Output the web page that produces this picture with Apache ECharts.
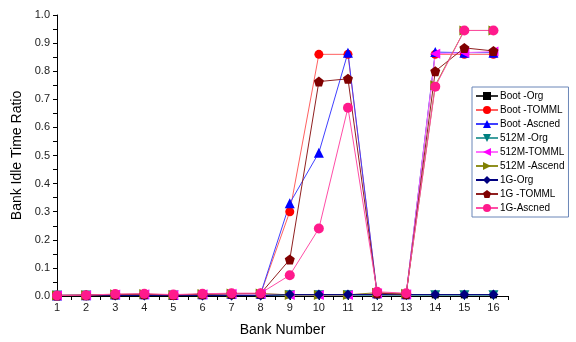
<!DOCTYPE html>
<html>
<head>
<meta charset="utf-8">
<script src="https://cdn.jsdelivr.net/npm/echarts@6/dist/echarts.min.js"></script>
<style>
  html, body { margin: 0; padding: 0; background: #fff; }
  #chart { width: 576px; height: 342px; }
</style>
</head>
<body>
<div id="chart"></div>
<script>
// bank numbers 1..16
const banks = [1, 2, 3, 4, 5, 6, 7, 8, 9, 10, 11, 12, 13, 14, 15, 16]

const bootOrg = [0.002, 0.002, 0.002, 0.002, 0.002, 0.002, 0.002, 0.002, 0.004, 0.004, 0.004, 0.004, 0.004, 0.004, 0.004, 0.004]
const bootTommml = [0.002, 0.003, 0.005, 0.006, 0.004, 0.006, 0.008, 0.008, 0.30, 0.86, 0.86, 0.01, 0.006, 0.86, 0.86, 0.86]
const bootAscned = [0.002, 0.003, 0.005, 0.006, 0.004, 0.006, 0.008, 0.008, 0.33, 0.51, 0.866, 0.01, 0.006, 0.868, 0.866, 0.866]
const m512Org = [0.002, 0.002, 0.002, 0.002, 0.002, 0.002, 0.002, 0.002, 0.003, 0.003, 0.003, 0.003, 0.003, 0.003, 0.003, 0.003]
const m512Tommml = [0.002, 0.003, 0.005, 0.006, 0.004, 0.006, 0.008, 0.008, 0.004, 0.004, 0.004, 0.01, 0.006, 0.862, 0.866, 0.87]
const m512Ascend = [0.002, 0.003, 0.006, 0.007, 0.004, 0.007, 0.009, 0.009, 0.004, 0.004, 0.004, 0.012, 0.008, 0.75, 0.945, 0.945]
const g1Org = [0.002, 0.002, 0.002, 0.002, 0.002, 0.002, 0.002, 0.002, 0.005, 0.005, 0.005, 0.005, 0.005, 0.005, 0.005, 0.005]
const g1Tommml = [0.002, 0.003, 0.005, 0.006, 0.004, 0.006, 0.008, 0.009, 0.13, 0.763, 0.773, 0.01, 0.006, 0.80, 0.883, 0.872]
const g1Ascned = [0.002, 0.003, 0.007, 0.008, 0.005, 0.008, 0.01, 0.01, 0.074, 0.24, 0.67, 0.015, 0.01, 0.745, 0.945, 0.945]

const yTicks = ['0.0', '0.1', '0.2', '0.3', '0.4', '0.5', '0.6', '0.7', '0.8', '0.9', '1.0']

const pentagon = 'path://M0,-1L0.951,-0.309L0.588,0.809L-0.588,0.809L-0.951,-0.309Z'

function mk(name, data, color, lineColor, symbol, size, rotate) {
  return {
    name: name,
    type: 'line',
    data: banks.map((b, i) => [b, data[i]]),
    symbol: symbol,
    symbolSize: size,
    symbolRotate: rotate || 0,
    showAllSymbol: true,
    itemStyle: { color: color },
    lineStyle: { color: lineColor, width: 1 },
    emphasis: { disabled: true },
    animation: false
  }
}

const chart = echarts.init(document.getElementById('chart'))
chart.setOption({
  textStyle: { fontFamily: 'Liberation Sans, Arial, sans-serif' },
  grid: { left: 57, right: 68, top: 15, bottom: 45 },
  legend: {
    orient: 'vertical',
    left: 472,
    top: 87,
    itemWidth: 22,
    itemHeight: 10,
    itemGap: 4,
    padding: [4, 4, 4, 3],
    borderColor: '#6a86b8',
    borderWidth: 1,
    textStyle: { fontSize: 10, color: '#000', padding: [0, 0, 0, -3] }
  },
  xAxis: {
    type: 'value',
    min: 1,
    max: 16.5,
    interval: 1,
    name: 'Bank Number',
    nameLocation: 'middle',
    nameGap: 27,
    nameTextStyle: { fontSize: 14, color: '#000' },
    splitLine: { show: false },
    axisLine: { lineStyle: { color: '#000' } },
    axisTick: { length: 4, inside: false, lineStyle: { color: '#000' } },
    minorTick: { show: true, splitNumber: 2, length: 4, lineStyle: { color: '#000' } },
    axisLabel: {
      fontSize: 11, color: '#222', margin: 6,
      formatter: v => (Number.isInteger(v) ? String(v) : '')
    }
  },
  yAxis: {
    type: 'value',
    min: 0,
    max: 1,
    interval: 0.1,
    name: 'Bank Idle Time Ratio',
    nameLocation: 'middle',
    nameGap: 33,
    nameTextStyle: { fontSize: 14, color: '#000' },
    splitLine: { show: false },
    axisLine: { show: true, lineStyle: { color: '#000' } },
    axisTick: { show: true, length: 4, lineStyle: { color: '#000' } },
    minorTick: { show: true, splitNumber: 2, length: 4, lineStyle: { color: '#000' } },
    axisLabel: {
      fontSize: 11, color: '#222', margin: 7,
      formatter: v => yTicks[Math.round(v * 10)]
    }
  },
  series: [
    mk('Boot -Org', bootOrg, '#000000', '#333333', 'rect', 7),
    mk('Boot -TOMML', bootTommml, '#ff0000', '#ff6060', 'circle', 9),
    mk('Boot -Ascned', bootAscned, '#0000ff', '#4040ff', 'triangle', 10),
    mk('512M -Org', m512Org, '#008080', '#40a0a0', 'triangle', 10, 180),
    mk('512M-TOMML', m512Tommml, '#ff00ff', '#ff70ff', 'triangle', 10, 90),
    mk('512M -Ascend', m512Ascend, '#808000', '#909020', 'triangle', 10, -90),
    mk('1G-Org', g1Org, '#000080', '#000080', 'diamond', 10),
    mk('1G -TOMML', g1Tommml, '#800000', '#902020', pentagon, 10),
    mk('1G-Ascned', g1Ascned, '#ff1a8c', '#ff4da6', 'circle', 10)
  ]
})
</script>
</body>
</html>
